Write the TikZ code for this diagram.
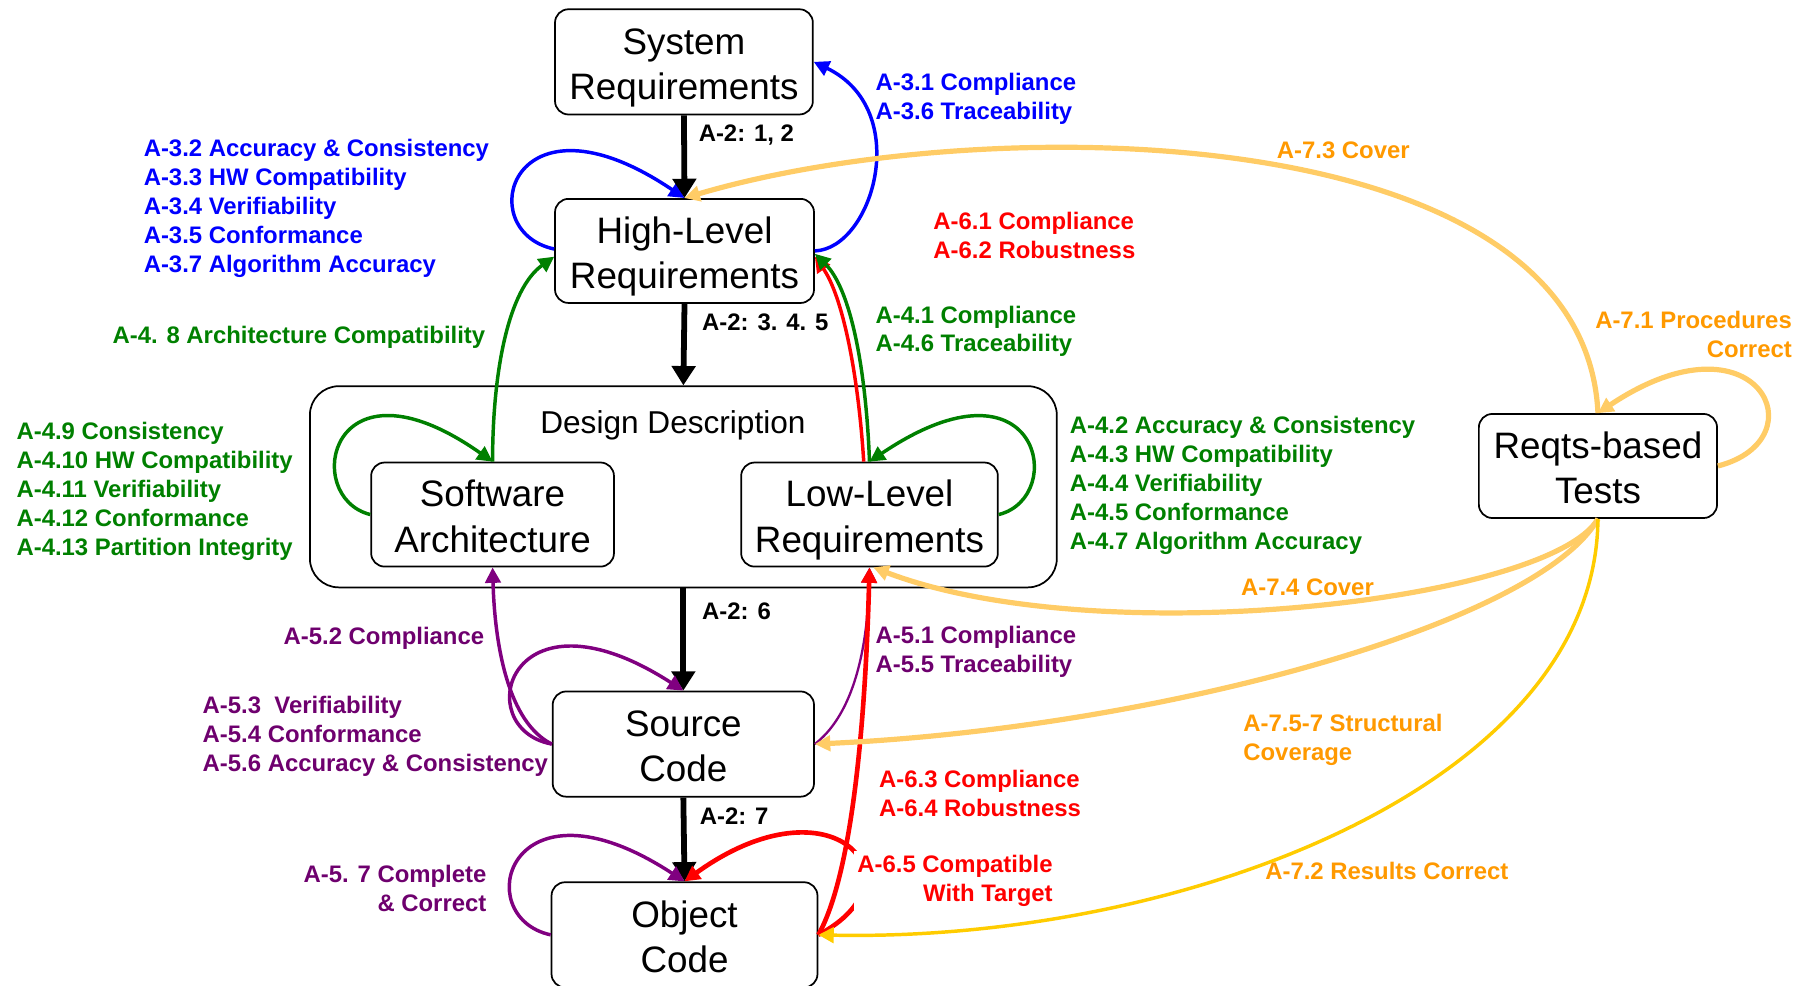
\documentclass[tikz,border=0pt]{standalone}
\usepackage{fontspec}
\setmainfont{Liberation Sans}
\usetikzlibrary{arrows.meta}

\definecolor{cblue}{HTML}{0000FF}
\definecolor{cgreen}{HTML}{008000}
\definecolor{cpurple}{HTML}{800080}
\definecolor{cpurpletxt}{HTML}{6E006E}
\definecolor{cred}{HTML}{FF0000}
\definecolor{corange}{HTML}{FF9900}
\definecolor{clight}{HTML}{FFCC66}
\definecolor{cgold}{HTML}{FFCC00}

% equal line height and depth in every box, so all two-line texts sit alike
\newcommand{\firstline}{\rule{0pt}{19.5pt}}
\newcommand{\lastline}{\rule[-4pt]{0pt}{4pt}}

\begin{document}
\begin{tikzpicture}[x=0.6pt, y=-0.6pt,
  box/.style={draw, line width=0.9pt, rounded corners=7pt, align=center, inner sep=0pt,
    font=\fontsize{19.1}{23.4}\selectfont},
  lbl/.style={font=\fontsize{12.4}{15}\selectfont\bfseries, align=left, inner sep=0pt, anchor=west, yshift=-1.2pt},
  lblr/.style={lbl, align=right, anchor=east},
  flow/.style={line width=3pt, -{Triangle[length=10pt,width=12pt]}},
  tip/.style={-{Triangle[length=8pt,width=8pt]}},
  cb/.style={tip, draw=cblue, line width=1.8pt},
  cg/.style={tip, draw=cgreen, line width=1.8pt},
  cp/.style={tip, draw=cpurple, line width=1.8pt},
  cr/.style={tip, draw=cred, line width=2.4pt},
  co/.style={tip, draw=clight, line width=2.7pt},
  cy/.style={tip, draw=cgold, line width=1.8pt},
]
\useasboundingbox (0,0) rectangle (1568,852);

% ---------- boxes ----------
\node[box, minimum width=387.6pt, minimum height=104.4pt, rounded corners=15pt] (dd) at (591,421) {};
\node[font=\fontsize{16.4}{19}\selectfont, inner sep=0pt] (ddl) at (582,368) {Design Description};

\node[box, minimum width=133.8pt, minimum height=54.6pt] (sys) at (591.5,53.5) {\firstline System\\Requirements\lastline};
\node[box, minimum width=134.4pt, minimum height=54pt] (hlr) at (592,217) {\firstline High-Level\\Requirements\lastline};
\node[box, minimum width=126pt, minimum height=54pt] (sa) at (426,445) {\firstline Software\\Architecture\lastline};
\node[box, minimum width=133.2pt, minimum height=54pt] (llr) at (752,445) {\firstline Low-Level\\Requirements\lastline};
\node[box, minimum width=135.6pt, minimum height=54.6pt] (src) at (591,643.5) {\firstline Source\\Code\lastline};
\node[box, minimum width=138pt, minimum height=54.6pt] (obj) at (592,808.5) {\firstline Object\\Code\lastline};
\node[box, minimum width=123.6pt, minimum height=54pt] (rbt) at (1382,403) {\firstline Reqts-based\\Tests\lastline};

% ---------- A-3: high-level requirements (blue) ----------
\draw[cb] ([yshift=1pt]hlr.west) .. controls (407,200) and (442,70) .. (hlr.north);
\draw[cb] (hlr.east) .. controls (755,215) and (790,95) .. (sys.east);

% ---------- development flow (black) ----------
\draw[flow] (sys.south) -- (hlr.north);
\draw[flow] (hlr.south) -- (dd.north);
\draw[flow] (dd.south) -- (src.north);
\draw[flow] (src.south) -- (obj.north);

% ---------- A-4: design (green) ----------
\draw[cg] (sa.north) .. controls (426,320) and (440,250) .. ([yshift=-3pt]hlr.west);
\draw[cg] (sa.west) .. controls (260,430) and (285,300) .. (sa.north);
\draw[cg] (llr.east) .. controls (924,430) and (899,300) .. (llr.north);

% ---------- A-6.1/6.2 (red) beside A-4.1/4.6 (green) ----------
\draw[cr, line width=1.8pt] ([xshift=-3pt]llr.north) .. controls (742,320) and (728,255) .. ([yshift=-3pt]hlr.east);
\draw[cg] (llr.north) .. controls (749,320) and (736,250) .. ([yshift=-1.5pt]hlr.east);

% ---------- A-5: coding (purple) ----------
\draw[cp] (src.west) .. controls (440,625) and (428,560) .. (sa.south);
\draw[cp] (src.west) .. controls (405,630) and (440,500) .. (src.north);
\draw[cp, line width=1.2pt] (src.east) .. controls (735,620) and (750,570) .. (llr.south);
\draw[cp] (obj.west) .. controls (405,793) and (440,663) .. (obj.north);

% ---------- A-6: integration (red) ----------
\draw[cr] (obj.east) .. controls (800,760) and (720,670) .. (obj.north);
\node[lblr, text=cred, fill=white, inner sep=2pt] (l65) at (914,759.5) {A-6.5 Compatible\\With Target};
\draw[cr] (obj.east) .. controls (735,760) and (748,640) .. (llr.south);

% ---------- A-7: verification of verification (orange) ----------
\draw[co] (rbt.north) .. controls (1370,100) and (850,95) .. (hlr.north);
\draw[co] (rbt.east) .. controls (1575,380) and (1520,265) .. (rbt.north);
\draw[co] (rbt.south) .. controls (1340,520) and (950,565) .. ([xshift=2pt]llr.south);
\draw[co] (rbt.south) .. controls (1330,540) and (1000,630) .. (src.east);
\draw[cy] (rbt.south) .. controls (1380,680) and (1020,815) .. (obj.east);

% ---------- labels ----------
\node[lbl] (l2a) at (604,115) {A-2: 1, 2};
\node[lbl] (l2b) at (607,277) {A-2: 3. 4. 5};
\node[lbl] (l2c) at (607,527) {A-2: 6};
\node[lbl] (l2d) at (605,704) {A-2: 7};

\node[lbl, text=cblue] (l31) at (757,83.5) {A-3.1 Compliance\\A-3.6 Traceability};
\node[lbl, text=cblue] (l32) at (124,178) {A-3.2 Accuracy \& Consistency\\A-3.3 HW Compatibility\\A-3.4 Verifiability\\A-3.5 Conformance\\A-3.7 Algorithm Accuracy};

\node[lbl, text=cred] (l61) at (807,201.5) {A-6.1 Compliance\\A-6.2 Robustness};
\node[lbl, text=cred] (l63) at (760,684.5) {A-6.3 Compliance\\A-6.4 Robustness};

\node[lbl, text=cgreen] (l48) at (97,290) {A-4. 8 Architecture Compatibility};
\node[lbl, text=cgreen] (l41) at (757,284.5) {A-4.1 Compliance\\A-4.6 Traceability};
\node[lbl, text=cgreen] (l49) at (14,423) {A-4.9 Consistency\\A-4.10 HW Compatibility\\A-4.11 Verifiability\\A-4.12 Conformance\\A-4.13 Partition Integrity};
\node[lbl, text=cgreen] (l42) at (925,418) {A-4.2 Accuracy \& Consistency\\A-4.3 HW Compatibility\\A-4.4 Verifiability\\A-4.5 Conformance\\A-4.7 Algorithm Accuracy};

\node[lbl, text=cpurpletxt] (l52) at (245,550) {A-5.2 Compliance};
\node[lbl, text=cpurpletxt] (l53) at (175,635) {A-5.3\ \ Verifiability\\A-5.4 Conformance\\A-5.6 Accuracy \& Consistency};
\node[lbl, text=cpurpletxt] (l51) at (757,562) {A-5.1 Compliance\\A-5.5 Traceability};
\node[lblr, text=cpurpletxt] (l57) at (421,766.5) {A-5. 7 Complete\\\& Correct};

\node[lbl, text=corange] (l73) at (1104,128) {A-7.3 Cover};
\node[lblr, text=corange] (l71) at (1550,287.5) {A-7.1 Procedures\\Correct};
\node[lbl, text=corange] (l74) at (1073,506) {A-7.4 Cover};
\node[lbl, text=corange] (l75) at (1075,637.5) {A-7.5-7 Structural\\Coverage};
\node[lbl, text=corange] (l72) at (1094,751) {A-7.2 Results Correct};
\end{tikzpicture}
\end{document}
